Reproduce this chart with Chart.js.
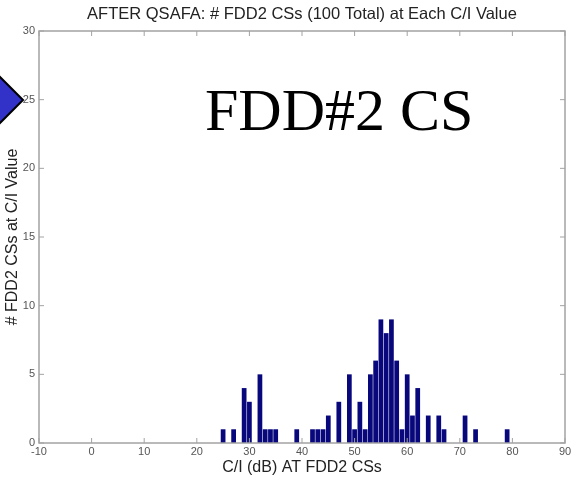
<!DOCTYPE html>
<html>
<head>
<meta charset="utf-8">
<script src="https://cdn.jsdelivr.net/npm/chart.js@4/dist/chart.umd.min.js"></script>
<style>
  html, body { margin: 0; padding: 0; background: #fff; }
  #wrap { width: 587px; height: 483px; }
</style>
</head>
<body>
<div id="wrap"><canvas id="hist"></canvas></div>
<script>
// C/I bins (dB) that hold at least one CS, and the count in each
const ciValues = [25, 27, 29, 30, 32, 33, 34, 35, 39, 42, 43, 44, 45, 47, 49, 50, 51,
  52, 53, 54, 55, 56, 57, 58, 59, 60, 61, 62, 64, 66, 67, 71, 73, 79];
const counts = [1, 1, 4, 3, 5, 1, 1, 1, 1, 1, 1, 1, 2, 3, 5, 1, 3,
  1, 5, 6, 9, 8, 9, 6, 1, 5, 2, 4, 2, 2, 1, 2, 1, 1];
const xTicks = [-10, 0, 10, 20, 30, 40, 50, 60, 70, 80, 90];
const yTicks = [0, 5, 10, 15, 20, 25, 30];

const AXIS_GREY = '#a3a3a3';
const LABEL_GREY = '#555555';
const SANS = "'Liberation Sans', Arial, sans-serif";

// MATLAB style box with inward ticks on all four sides
const boxPlugin = {
  id: 'box',
  afterDatasetsDraw(chart) {
    const { ctx, chartArea: a, scales } = chart;
    ctx.save();
    ctx.strokeStyle = AXIS_GREY;
    ctx.lineWidth = 1.5;
    ctx.strokeRect(a.left, a.top, a.right - a.left, a.bottom - a.top);
    ctx.lineWidth = 1;
    const len = 5;
    xTicks.forEach(v => {
      const px = scales.x.getPixelForValue(v);
      ctx.beginPath();
      ctx.moveTo(px, a.bottom); ctx.lineTo(px, a.bottom - len);
      ctx.moveTo(px, a.top); ctx.lineTo(px, a.top + len);
      ctx.stroke();
    });
    yTicks.forEach(v => {
      const py = scales.y.getPixelForValue(v);
      ctx.beginPath();
      ctx.moveTo(a.left, py); ctx.lineTo(a.left + len, py);
      ctx.moveTo(a.right, py); ctx.lineTo(a.right - len, py);
      ctx.stroke();
    });
    ctx.restore();
  }
};

// slide overlay: big label and the blue diamond at the left edge
const overlayPlugin = {
  id: 'overlay',
  afterDraw(chart) {
    const { ctx } = chart;
    ctx.save();
    ctx.fillStyle = '#000';
    ctx.font = "60px 'Liberation Serif', 'Times New Roman', serif";
    ctx.textBaseline = 'alphabetic';
    ctx.fillText('FDD#2 CS', 205, 130);

    ctx.beginPath();
    ctx.moveTo(23, 100);
    ctx.lineTo(-5, 72);
    ctx.lineTo(-33, 100);
    ctx.lineTo(-5, 128);
    ctx.closePath();
    ctx.fillStyle = '#3232c8';
    ctx.fill();
    ctx.strokeStyle = '#000';
    ctx.lineWidth = 2;
    ctx.stroke();
    ctx.restore();
  }
};

new Chart(document.getElementById('hist'), {
  type: 'bar',
  data: {
    datasets: [{
      data: ciValues.map((v, i) => ({ x: v, y: counts[i] })),
      backgroundColor: '#08087c',
      borderWidth: 0,
      barPercentage: 1,
      categoryPercentage: 0.9,
    }],
  },
  options: {
    responsive: true,
    maintainAspectRatio: false,
    animation: false,
    layout: { padding: { top: 0, right: 22, bottom: 0, left: 0 } },
    plugins: {
      legend: { display: false },
      tooltip: { enabled: false },
      title: {
        display: true,
        fullSize: false,
        text: 'AFTER QSAFA: # FDD2 CSs (100 Total) at Each C/I Value',
        color: '#222',
        font: { family: SANS, size: 16.5, weight: 'normal' },
        padding: { top: 4.5, bottom: 6.7 },
      },
    },
    scales: {
      x: {
        type: 'linear',
        min: -10,
        max: 90,
        offset: false,
        afterBuildTicks: (s) => { s.ticks = xTicks.map(v => ({ value: v })); },
        afterFit: (s) => { s.height = 40; },
        grid: { display: false, drawTicks: false, offset: false },
        border: { display: false },
        ticks: {
          color: LABEL_GREY,
          font: { family: SANS, size: 11 },
          padding: 2,
          maxRotation: 0,
        },
        title: {
          display: true,
          text: 'C/I (dB) AT FDD2 CSs',
          color: '#222',
          font: { family: SANS, size: 16 },
          padding: { top: 0, bottom: 6 },
        },
      },
      y: {
        min: 0,
        max: 30,
        afterBuildTicks: (s) => { s.ticks = yTicks.map(v => ({ value: v })); },
        afterFit: (s) => { s.width = 39; },
        grid: { display: false, drawTicks: false },
        border: { display: false },
        ticks: {
          color: LABEL_GREY,
          font: { family: SANS, size: 11 },
          padding: 4,
        },
        title: {
          display: true,
          text: '# FDD2 CSs at C/I Value',
          color: '#222',
          font: { family: SANS, size: 16 },
          padding: { top: 3, bottom: 0 },
        },
      },
    },
  },
  plugins: [boxPlugin, overlayPlugin],
});
</script>
</body>
</html>
